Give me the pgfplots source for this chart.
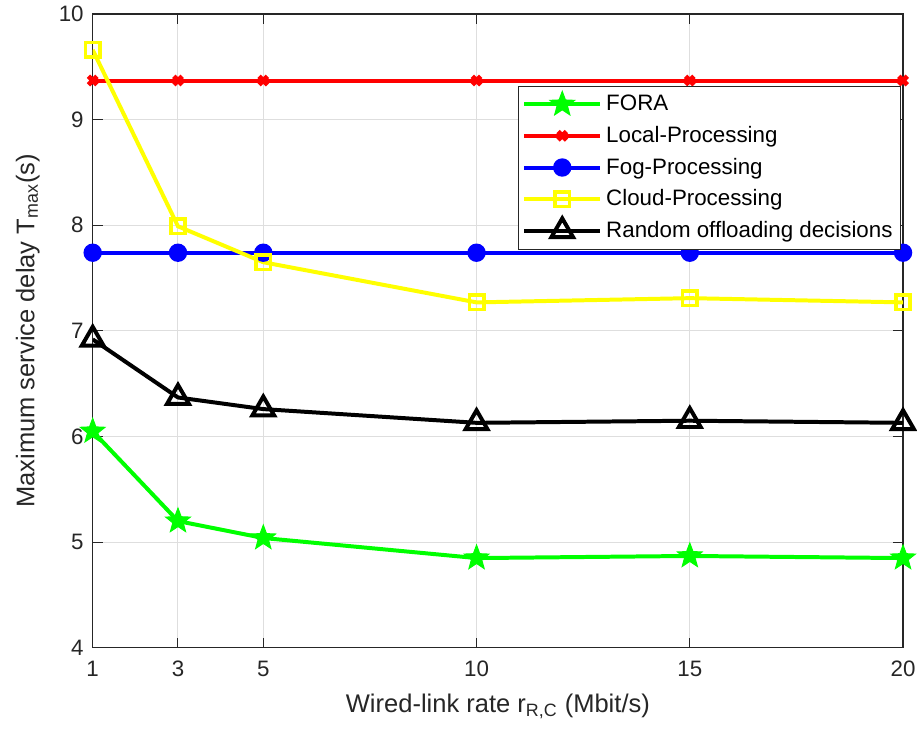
\documentclass[border=0pt]{standalone}
\usepackage{pgfplots}
\pgfplotsset{compat=1.18}
\usepackage{fontspec}
\setmainfont{Liberation Sans}

\definecolor{mgreen}{RGB}{0,255,0}
\definecolor{mred}{RGB}{255,0,0}
\definecolor{mblue}{RGB}{0,0,255}
\definecolor{myellow}{RGB}{255,255,0}
\definecolor{axgray}{RGB}{38,38,38}
\definecolor{gridgray}{RGB}{222,222,222}

% filled five-pointed star
\pgfdeclareplotmark{fstar}{%
  \pgfpathmoveto{\pgfqpointpolar{90}{\pgfplotmarksize}}%
  \pgfpathlineto{\pgfqpointpolar{126}{0.42\pgfplotmarksize}}%
  \pgfpathlineto{\pgfqpointpolar{162}{\pgfplotmarksize}}%
  \pgfpathlineto{\pgfqpointpolar{198}{0.42\pgfplotmarksize}}%
  \pgfpathlineto{\pgfqpointpolar{234}{\pgfplotmarksize}}%
  \pgfpathlineto{\pgfqpointpolar{270}{0.42\pgfplotmarksize}}%
  \pgfpathlineto{\pgfqpointpolar{306}{\pgfplotmarksize}}%
  \pgfpathlineto{\pgfqpointpolar{342}{0.42\pgfplotmarksize}}%
  \pgfpathlineto{\pgfqpointpolar{18}{\pgfplotmarksize}}%
  \pgfpathlineto{\pgfqpointpolar{54}{0.42\pgfplotmarksize}}%
  \pgfpathclose
  \pgfusepathqfillstroke}

\begin{document}
\begin{tikzpicture}
\begin{axis}[
  name=ax,
  scale only axis,
  width=406.5pt, height=318pt,
  xmin=1, xmax=20, ymin=4, ymax=10,
  xtick={1,3,5,10,15,20},
  ytick={4,5,6,7,8,9,10},
  /pgf/number format/assume math mode=true,
  tick label style={font=\fontsize{11.2}{13}\selectfont, text=axgray},
  xticklabel style={yshift=-3pt},
  yticklabel style={xshift=-1pt},
  tick align=inside,
  major tick length=5pt,
  tick style={axgray, line width=0.5pt},
  axis line style={axgray, line width=0.6pt},
  grid=major,
  grid style={gridgray, line width=0.5pt},
  xlabel={Wired-link rate r\textsubscript{R,C} (Mbit/s)},
  ylabel={Maximum service delay T\textsubscript{max}(s)},
  label style={font=\fontsize{12.8}{15}\selectfont, text=axgray},
  xlabel style={at={(axis description cs:0.5,-0.102)}, anchor=base},
  ylabel style={at={(axis description cs:-0.072,0.5)}, anchor=base, rotate=0},
  legend style={at={(axis description cs:0.9975,0.887)}, anchor=north east,
    font=\fontsize{11.2}{13}\selectfont, draw=axgray, line width=0.5pt,
    inner xsep=2pt, inner ysep=2.5pt, row sep=2.3pt, fill=white},
  legend cell align=left,
  legend image code/.code={
    \draw[mark repeat=2, mark phase=2] plot coordinates {(0cm,0cm) (0.67cm,0cm) (1.34cm,0cm)};
  },
  every axis plot/.append style={line width=2pt},
]
% FORA
\addplot[mgreen, mark=fstar, mark size=6.5pt, mark options={fill=mgreen, line width=0.5pt}]
  coordinates {(1,6.05) (3,5.20) (5,5.04) (10,4.85) (15,4.87) (20,4.85)};
\addlegendentry{FORA}
% Local processing
\addplot[mred, mark=x, mark size=3pt, mark options={line width=2.4pt}]
  coordinates {(1,9.37) (3,9.37) (5,9.37) (10,9.37) (15,9.37) (20,9.37)};
\addlegendentry{Local-Processing}
% Fog processing
\addplot[mblue, mark=*, mark size=3.6pt]
  coordinates {(1,7.74) (3,7.74) (5,7.74) (10,7.74) (15,7.74) (20,7.74)};
\addlegendentry{Fog-Processing}
% Cloud processing
\addplot[myellow, mark=square, mark size=3.6pt, mark options={line width=1.8pt}]
  coordinates {(1,9.66) (3,7.99) (5,7.65) (10,7.27) (15,7.31) (20,7.27)};
\addlegendentry{Cloud-Processing}
% Random offloading decisions
\addplot[black, mark=triangle, mark size=6.3pt, mark options={line width=2pt}]
  coordinates {(1,6.92) (3,6.37) (5,6.26) (10,6.13) (15,6.15) (20,6.13)};
\addlegendentry{Random offloading decisions}
\end{axis}
\pgfresetboundingbox
\path[use as bounding box] (ax.south west) ++(-46.5pt,-44.5pt) rectangle ++(460pt,369.5pt);
\end{tikzpicture}
\end{document}
